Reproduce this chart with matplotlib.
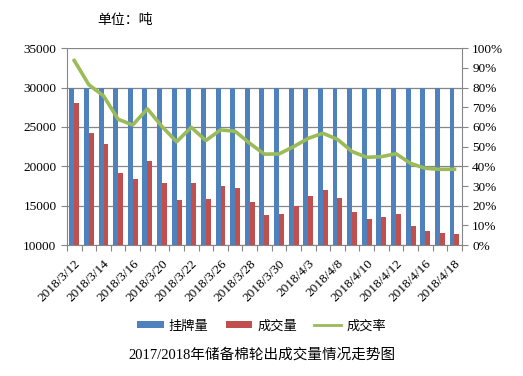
import numpy as np
import matplotlib.pyplot as plt
from matplotlib.ticker import FuncFormatter

plt.rcParams['font.family'] = ['Liberation Serif', 'Noto Sans CJK SC']

# 交易日
dates = ['2018/3/12', '2018/3/13', '2018/3/14', '2018/3/15', '2018/3/16',
         '2018/3/19', '2018/3/20', '2018/3/21', '2018/3/22', '2018/3/23',
         '2018/3/26', '2018/3/27', '2018/3/28', '2018/3/29', '2018/3/30',
         '2018/4/2', '2018/4/3', '2018/4/4', '2018/4/8', '2018/4/9',
         '2018/4/10', '2018/4/11', '2018/4/12', '2018/4/13', '2018/4/16',
         '2018/4/17', '2018/4/18']

listed = [30000] * 27
traded = [28090, 24240, 22840, 19150, 18390, 20680, 17880, 15720, 17880, 15850,
          17540, 17250, 15470, 13810, 13980, 14960, 16230, 16990, 15980, 14200,
          13300, 13560, 13980, 12420, 11780, 11570, 11400]
rate = [93.7, 81.4, 75.8, 63.9, 61.0, 69.2, 60.2, 52.5, 59.8, 53.1,
        58.5, 57.8, 51.7, 46.2, 46.3, 50.0, 54.2, 56.8, 53.7, 47.5,
        44.6, 44.9, 46.4, 41.5, 39.0, 38.5, 38.5]

blue = '#4F81BD'
red = '#C0504D'
green = '#9BBB59'

fig = plt.figure(figsize=(5.23, 3.76), dpi=100)
ax = fig.add_axes([0.128, 0.348, 0.755, 0.524])

x = np.arange(len(dates))
w = 0.34
b1 = ax.bar(x - w / 2, np.array(listed) - 10000, w, bottom=10000, color=blue, label='挂牌量', zorder=2)
b2 = ax.bar(x + w / 2, np.array(traded) - 10000, w, bottom=10000, color=red, label='成交量', zorder=2)

ax.set_xlim(-0.5, len(dates) - 0.5)
ax.set_ylim(10000, 35000)
ax.set_yticks(range(10000, 35001, 5000))
ax.yaxis.grid(True, color='#868686', linewidth=0.9, zorder=0)
ax.set_axisbelow(True)

ax.set_xticks(np.arange(-0.5, len(dates), 1))
ax.set_xticklabels([])
ax.set_xticks(x[::2], minor=True)
ax.set_xticklabels(dates[::2], minor=True, rotation=45, ha='right',
                   rotation_mode='anchor', fontsize=9.5)
ax.tick_params(axis='x', which='minor', length=0, pad=9)
ax.tick_params(axis='x', which='major', length=4, color='#868686')
ax.tick_params(axis='y', length=4, color='#868686', labelsize=9.5)

for s in ['top', 'right']:
    ax.spines[s].set_visible(False)
for s in ['left', 'bottom']:
    ax.spines[s].set_color('#868686')

ax2 = ax.twinx()
l1, = ax2.plot(x, rate, color=green, linewidth=2.6, label='成交率', zorder=3)
ax2.set_ylim(0, 100)
ax2.set_yticks(range(0, 101, 10))
ax2.yaxis.set_major_formatter(FuncFormatter(lambda v, p: f'{int(v)}%'))
ax2.tick_params(axis='y', length=4, color='#868686', labelsize=9.5)
for s in ['top', 'left', 'bottom']:
    ax2.spines[s].set_visible(False)
ax2.spines['right'].set_color('#868686')

leg = fig.legend(handles=[b1, b2, l1], loc='center', bbox_to_anchor=(0.5, 0.133),
                 ncol=3, frameon=False, handlelength=2.0, handleheight=0.45,
                 handletextpad=0.4, columnspacing=1.3,
                 prop={'family': 'Noto Sans CJK SC', 'size': 9.5})
leg.get_lines()[0].set_linewidth(2) if leg.get_lines() else None

fig.text(0.185, 0.935, '单位：吨', fontsize=10, family='Noto Sans CJK SC')
fig.text(0.5, 0.045, '2017/2018年储备棉轮出成交量情况走势图', ha='center', fontsize=10.5,
         family=['Liberation Serif', 'Noto Sans CJK SC'])

fig.savefig('out.png', dpi=100)
